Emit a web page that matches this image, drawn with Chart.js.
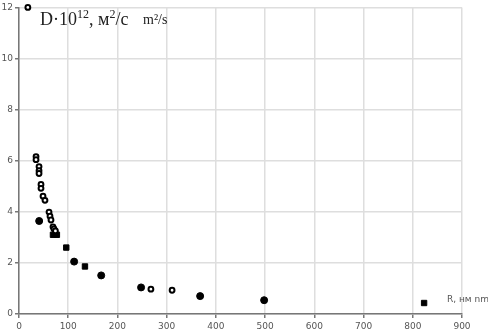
<!DOCTYPE html>
<html>
<head>
<meta charset="utf-8">
<script src="https://cdn.jsdelivr.net/npm/chart.js@4/dist/chart.umd.min.js"></script>
<style>
  html, body { margin: 0; padding: 0; background: #fff; }
  #wrap { width: 488px; height: 332px; position: relative; }
</style>
</head>
<body>
<div id="wrap"><canvas id="chart"></canvas></div>
<script>
// open rings
const ringX = [18, 34.6, 34.6, 40.7, 40.7, 40.7, 44.7, 44.7, 48.8, 52.8, 61, 63, 65, 69, 71, 74, 268, 311]
const ringY = [12, 6.16, 6.04, 5.77, 5.61, 5.5, 5.07, 4.92, 4.61, 4.45, 3.99, 3.83, 3.68, 3.41, 3.33, 3.25, 0.97, 0.93]
// filled circles
const dotX = [41, 112, 167, 248, 368, 498]
const dotY = [3.64, 2.05, 1.51, 1.04, 0.70, 0.54]
// squares
const sqX = [69, 77, 96, 134, 823]
const sqY = [3.1, 3.1, 2.6, 1.86, 0.43]

const xTicks = [0, 100, 200, 300, 400, 500, 600, 700, 800, 900]
const yTicks = [0, 2, 4, 6, 8, 10, 12]

const toPts = (xs, ys) => xs.map((x, i) => ({x: x, y: ys[i]}))

// axis captions
const captions = {
    id: 'captions',
    afterDraw(chart) {
        const ctx = chart.ctx
        ctx.save()
        ctx.fillStyle = '#222'
        ctx.textBaseline = 'alphabetic'
        let x = 40, y = 25
        ctx.font = '18px "Liberation Serif", serif'
        ctx.fillText('D·10', x, y); x += ctx.measureText('D·10').width
        ctx.font = '12px "Liberation Serif", serif'
        ctx.fillText('12', x, y - 7); x += ctx.measureText('12').width
        ctx.font = '18px "Liberation Serif", serif'
        ctx.fillText(', м', x, y); x += ctx.measureText(', м').width
        ctx.font = '12px "Liberation Serif", serif'
        ctx.fillText('2', x, y - 7); x += ctx.measureText('2').width
        ctx.font = '18px "Liberation Serif", serif'
        ctx.fillText('/с', x, y)
        ctx.font = '14px "Liberation Serif", serif'
        ctx.fillText('m²/s', 143, 24)
        ctx.font = '9px "DejaVu Sans", sans-serif'
        ctx.fillStyle = '#555'
        ctx.fillText('R, нм nm', 447, 302)
        ctx.restore()
    }
}

new Chart(document.getElementById('chart'), {
    type: 'scatter',
    data: {
        datasets: [{
            data: toPts(ringX, ringY),
            pointStyle: 'circle',
            pointRadius: 2.4,
            borderWidth: 2,
            borderColor: '#000',
            backgroundColor: '#fff'
        }, {
            data: toPts(dotX, dotY),
            pointStyle: 'circle',
            pointRadius: 3.5,
            borderWidth: 1,
            borderColor: '#000',
            backgroundColor: '#000'
        }, {
            data: toPts(sqX, sqY),
            pointStyle: 'rect',
            pointRadius: 3.8,
            borderWidth: 1,
            borderColor: '#000',
            backgroundColor: '#000'
        }]
    },
    options: {
        responsive: true,
        maintainAspectRatio: false,
        animation: false,
        clip: false,
        layout: { padding: { top: 4, right: 26, left: 0, bottom: 0 } },
        plugins: { legend: { display: false }, tooltip: { enabled: false } },
        scales: {
            x: {
                type: 'linear', min: 0, max: 900,
                afterBuildTicks: s => { s.ticks = xTicks.map(v => ({value: v})) },
                afterFit: s => { s.height = 18 },
                grid: { color: '#dedede', lineWidth: 1.5, tickLength: 4, tickColor: '#777' },
                border: { color: '#777', width: 1.5 },
                ticks: { color: '#555', font: { size: 9, family: 'DejaVu Sans' }, padding: 3, maxRotation: 0 }
            },
            y: {
                type: 'linear', min: 0, max: 12,
                afterBuildTicks: s => { s.ticks = yTicks.map(v => ({value: v})) },
                afterFit: s => { s.width = 19 },
                grid: { color: '#dedede', lineWidth: 1.5, tickLength: 4, tickColor: '#777' },
                border: { color: '#777', width: 1.5 },
                ticks: { color: '#555', font: { size: 9, family: 'DejaVu Sans' }, padding: 2 }
            }
        }
    },
    plugins: [captions]
})
</script>
</body>
</html>
